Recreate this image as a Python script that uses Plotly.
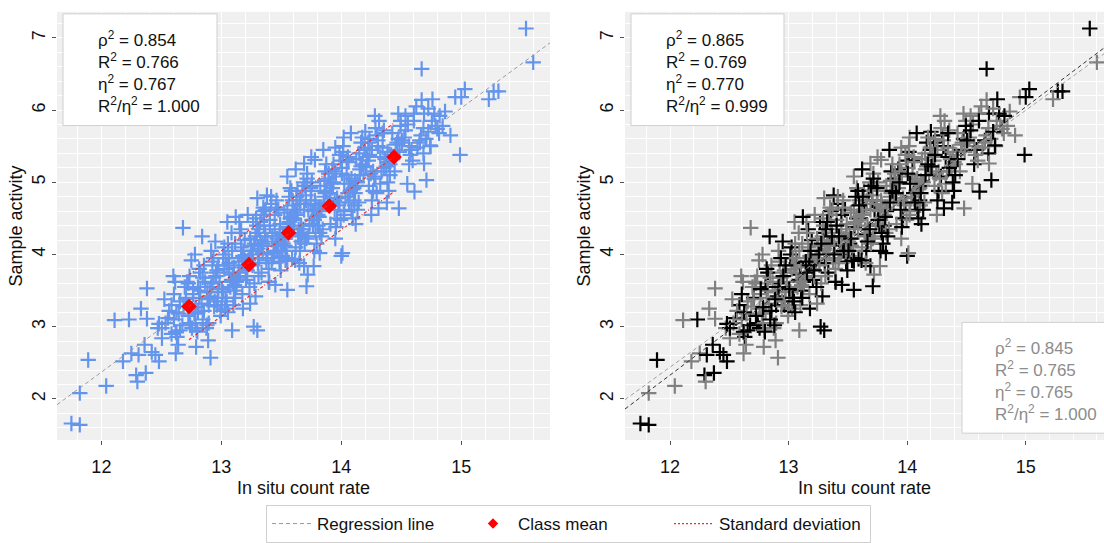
import plotly.graph_objects as go

# ---------------- data ----------------
black_pts = [
    (12.555,3.12),(12.505,2.98),(12.585,3.30),
    (12.625,3.20),(12.675,3.02),(12.605,3.45),(12.655,2.95),
    (12.785,3.27),(12.735,3.05),(12.765,3.52),(12.705,3.40),(12.725,3.15),(12.755,2.98),
    (12.855,3.22),(12.805,3.55),(12.885,3.38),(12.825,3.75),(12.845,3.10),(12.895,3.30),(12.815,3.80),
    (12.925,3.60),(12.975,3.85),(12.905,3.42),(12.955,3.70),(12.995,3.22),(12.935,3.95),(12.965,3.30),(12.915,3.55),
    (13.085,3.65),(13.035,3.40),(13.065,3.88),(13.005,3.52),(13.025,4.10),(13.055,3.20),(13.095,3.72),(13.045,3.35),(13.015,4.00),
    (13.155,3.75),(13.105,3.50),(13.185,4.05),(13.125,3.62),(13.145,3.90),(13.195,4.20),(13.115,3.40),(13.165,4.35),(13.175,3.85),
    (13.225,3.88),(13.275,4.15),(13.205,3.65),(13.255,4.00),(13.295,4.30),(13.235,3.55),(13.265,4.45),(13.215,3.78),(13.285,3.42),
    (13.385,4.00),(13.335,3.75),(13.365,4.25),(13.305,3.88),(13.325,4.45),(13.355,4.60),(13.395,3.62),(13.345,4.15),(13.315,4.35),
    (13.455,4.12),(13.405,4.40),(13.485,3.90),(13.425,4.25),(13.445,4.55),(13.495,3.78),(13.415,4.70),(13.465,4.05),(13.475,4.62),
    (13.525,4.22),(13.575,4.50),(13.505,4.05),(13.555,4.38),(13.595,4.68),(13.535,3.92),(13.565,4.80),(13.515,4.15),(13.585,4.88),(13.545,3.95),
    (13.685,4.35),(13.635,4.62),(13.665,4.18),(13.605,4.50),(13.625,4.80),(13.655,4.05),(13.695,4.95),(13.645,4.28),(13.615,3.92),(13.675,4.88),
    (13.755,4.48),(13.705,4.75),(13.785,4.30),(13.725,4.62),(13.745,4.92),(13.795,4.15),(13.715,5.05),(13.765,4.40),(13.775,4.05),
    (13.825,4.60),(13.875,4.88),(13.805,4.40),(13.855,4.72),(13.895,5.05),(13.835,4.25),(13.865,5.15),(13.815,4.52),
    (13.985,4.72),(13.935,5.00),(13.965,4.50),(13.905,4.85),(13.925,5.18),(13.955,4.38),(13.995,5.30),(13.945,4.62),
    (14.055,4.85),(14.005,5.12),(14.085,4.62),(14.025,4.98),(14.045,5.30),(14.095,4.50),(14.015,5.42),(14.065,4.72),
    (14.125,4.95),(14.175,5.25),(14.105,4.75),(14.155,5.10),(14.195,5.45),(14.135,4.62),(14.165,5.55),(14.115,4.85),
    (14.285,5.08),(14.235,5.38),(14.265,4.88),(14.205,5.22),(14.225,5.55),(14.255,4.75),(14.295,5.65),
    (14.355,5.20),(14.305,5.50),(14.385,5.00),(14.325,5.35),(14.345,5.68),(14.395,4.88),
    (14.425,5.32),(14.475,5.60),(14.405,5.10),(14.455,5.45),(14.495,5.78),
    (14.585,5.45),(14.535,5.72),(14.565,5.25),(14.505,5.58),
    (14.655,5.58),(14.605,5.85),(14.685,5.40),
    (14.725,5.70),(14.775,5.95),
    (14.82,5.92),
    # wider spread
    (12.95,4.18),(13.12,4.52),(13.38,4.82),(13.62,5.18),(13.85,5.45),(14.08,5.68),
    (13.18,3.25),(13.45,3.58),(13.82,4.02),(14.12,4.42),(14.38,4.72),(12.88,3.02),
    # outliers
    (15.54,7.13),(14.67,6.57),(15.03,6.29),(15.00,6.18),(15.27,6.26),(15.31,6.26),(14.99,5.38),
    (14.76,6.15),(14.69,5.95),(14.74,5.51),(14.71,5.03),(14.61,4.87),(14.20,5.70),(14.31,4.64),
    (14.00,3.98),(13.71,3.56),(13.55,3.51),(12.84,4.25),(12.23,3.10),(12.31,2.61),(12.36,2.75),
    (12.42,2.65),(12.45,2.61),(12.48,2.52),(12.29,2.33),(12.37,2.36),(11.89,2.54),(11.75,1.66),
    (11.82,1.64),(13.27,3.00),(13.30,2.95),(12.62,2.93),(12.63,2.86),(12.80,2.93),(12.74,3.02),
    (12.48,3.04),(13.69,3.84),(13.55,3.91),(13.59,3.94),
]

gray_pts = [
    (12.585,2.90),(12.535,3.05),(12.565,3.22),(12.505,2.84),(12.525,3.38),
    (12.655,3.35),(12.605,3.10),(12.685,3.28),(12.625,2.92),(12.645,3.18),(12.695,3.55),(12.615,3.62),
    (12.725,3.60),(12.775,3.18),(12.705,3.38),(12.755,3.25),(12.795,2.95),(12.735,3.70),(12.765,3.45),(12.715,3.62),(12.785,3.05),
    (12.885,3.48),(12.835,3.32),(12.865,3.62),(12.805,3.20),(12.825,3.50),(12.855,3.85),(12.895,3.05),(12.845,3.68),(12.815,3.40),(12.875,2.98),
    (12.955,3.75),(12.905,3.48),(12.985,3.62),(12.925,3.90),(12.945,3.35),(12.995,3.15),(12.915,4.05),(12.965,3.78),(12.975,3.52),(12.935,3.68),(12.940,3.28),(12.970,3.40),
    (13.025,3.80),(13.075,3.55),(13.005,3.30),(13.055,4.15),(13.095,3.62),(13.035,3.95),(13.065,3.75),(13.015,3.48),(13.085,4.30),(13.045,3.85),(13.030,3.25),(13.060,3.95),(13.090,4.05),
    (13.185,3.95),(13.135,3.68),(13.165,4.10),(13.105,3.82),(13.125,3.55),(13.155,4.30),(13.195,3.92),(13.145,3.70),(13.115,4.15),(13.175,3.45),(13.110,3.58),(13.150,4.45),(13.180,3.98),
    (13.255,4.05),(13.205,3.80),(13.285,4.25),(13.225,3.92),(13.245,4.12),(13.295,4.40),(13.215,3.70),(13.265,4.05),(13.275,3.60),(13.235,3.95),(13.220,4.55),(13.260,3.85),(13.290,4.50),(13.240,4.22),
    (13.325,4.20),(13.375,3.92),(13.305,4.08),(13.355,4.40),(13.395,3.80),(13.335,4.55),(13.365,4.30),(13.315,3.95),(13.385,4.18),(13.345,4.02),(13.310,3.70),(13.350,4.65),(13.370,4.62),(13.330,4.12),
    (13.485,4.30),(13.435,4.05),(13.465,4.22),(13.405,4.48),(13.425,3.95),(13.455,4.65),(13.495,4.18),(13.445,4.35),(13.415,4.80),(13.475,4.15),(13.420,3.88),(13.460,4.75),(13.490,4.42),(13.440,4.02),
    (13.555,4.42),(13.505,4.18),(13.585,4.35),(13.525,4.58),(13.545,4.05),(13.595,4.75),(13.515,4.28),(13.565,4.45),(13.575,4.92),(13.535,4.22),(13.510,3.98),(13.550,4.62),(13.580,4.52),(13.530,4.12),
    (13.625,4.55),(13.675,4.30),(13.605,4.48),(13.655,4.70),(13.695,4.15),(13.635,4.88),(13.665,4.40),(13.615,4.58),(13.685,5.00),(13.645,4.35),(13.620,4.10),(13.660,4.75),(13.690,4.62),(13.640,4.25),
    (13.785,4.68),(13.735,4.42),(13.765,4.60),(13.705,4.82),(13.725,4.25),(13.755,5.00),(13.795,4.52),(13.745,4.70),(13.715,5.12),(13.775,4.48),(13.710,4.22),(13.750,4.88),(13.780,4.75),
    (13.855,4.80),(13.805,4.55),(13.885,4.72),(13.825,4.95),(13.845,4.35),(13.895,5.12),(13.815,4.65),(13.865,4.85),(13.875,5.25),(13.835,4.62),(13.820,4.30),(13.860,5.02),
    (13.925,4.92),(13.975,4.68),(13.905,4.85),(13.955,5.08),(13.995,4.48),(13.935,5.25),(13.965,4.78),(13.915,4.98),(13.985,5.38),(13.945,4.75),(13.910,4.42),(13.950,5.15),
    (14.085,5.05),(14.035,4.80),(14.065,4.98),(14.005,5.20),(14.025,4.60),(14.055,5.35),(14.095,4.90),(14.045,5.10),(14.015,5.50),(14.075,4.88),(14.020,4.55),(14.060,5.28),
    (14.155,5.18),(14.105,4.92),(14.185,5.10),(14.125,5.32),(14.145,4.72),(14.195,5.48),(14.115,5.02),(14.165,5.22),(14.175,5.62),(14.135,5.00),(14.110,4.68),(14.150,5.40),
    (14.225,5.30),(14.275,5.05),(14.205,5.22),(14.255,5.45),(14.295,4.85),(14.235,5.60),(14.265,5.15),(14.215,5.35),(14.285,5.75),(14.245,5.12),(14.230,4.95),
    (14.385,5.42),(14.335,5.15),(14.365,5.32),(14.305,5.58),(14.325,4.98),(14.355,5.72),(14.395,5.28),(14.345,5.48),(14.315,5.85),(14.375,5.22),
    (14.455,5.52),(14.405,5.25),(14.485,5.42),(14.425,5.68),(14.445,5.15),(14.495,5.85),(14.415,5.38),(14.465,5.55),(14.475,5.95),
    (14.525,5.62),(14.575,5.38),(14.505,5.55),(14.555,5.80),(14.595,5.30),(14.535,5.92),(14.565,5.50),
    (14.685,5.75),(14.635,5.48),(14.665,5.65),(14.605,5.95),(14.625,6.05),(14.655,5.55),
    (14.755,5.85),(14.705,5.60),(14.785,5.78),(14.725,6.02),(14.745,5.50),
    (14.815,5.68),(14.845,5.78),(14.865,5.98),
    # wider spread
    (13.05,4.45),(13.30,4.78),(13.55,5.08),(13.75,5.35),(14.02,5.62),(14.28,5.92),(13.10,3.30),
    (13.40,3.62),(13.65,3.88),(13.95,4.22),(14.25,4.55),(14.55,4.98),(12.75,3.92),(12.60,3.70),
    # outliers
    (15.60,6.66),(15.23,6.15),(14.95,6.18),(14.91,5.65),(14.80,5.74),(14.67,6.14),(14.48,4.64),
    (14.69,5.26),(13.69,5.26),(13.78,5.31),(13.95,5.48),(12.68,4.37),(12.78,4.00),(12.38,3.53),
    (12.33,3.25),(12.38,3.11),(12.11,3.09),(12.47,2.98),(12.62,2.63),(12.64,2.75),(12.18,2.52),
    (12.25,2.63),(12.30,2.24),(12.04,2.18),(11.82,2.08),(13.09,2.95),(12.79,2.72),(12.89,2.81),
    (12.91,2.57),(13.24,3.32),(14.01,4.02),(13.72,3.72),(13.77,3.84),
]

black_x = [p[0] for p in black_pts]
black_y = [p[1] for p in black_pts]
gray_x = [p[0] for p in gray_pts]
gray_y = [p[1] for p in gray_pts]

class_x = [12.73, 13.23, 13.56, 13.90, 14.44]
class_y = [3.28, 3.86, 4.30, 4.67, 5.35]

sd_x = [12.73, 14.44]
sd_center = [3.28, 5.35]
sd_upper = [3.72, 5.82]
sd_lower = [2.82, 4.87]

reg_all_x = [11.63, 15.74]
reg_all_y = [1.92, 6.93]
reg_black_x = [11.62, 15.66]
reg_black_y = [1.86, 6.86]
reg_gray_x = [11.62, 15.66]
reg_gray_y = [1.99, 6.78]

stat_names = ["ρ<sup>2</sup>", "R<sup>2</sup>", "η<sup>2</sup>", "R<sup>2</sup>/η<sup>2</sup>"]
stats_all = ["0.854", "0.766", "0.767", "1.000"]
stats_black = ["0.865", "0.769", "0.770", "0.999"]
stats_gray = ["0.845", "0.765", "0.765", "1.000"]

x_ticks = [12, 13, 14, 15]
y_ticks = [2, 3, 4, 5, 6, 7]

# ---------------- figure ----------------
W, H = 1104, 543
FONT = "Liberation Sans, Arial, sans-serif"
BLUE = "#6495ED"
BLACK = "#000000"
GRAY = "#808080"
TXT = "#111111"
RED = "#FF0000"


def px(x):
    return x / W


def py(y):
    return 1 - y / H


def cross(c):
    return dict(symbol="cross-thin", size=11, color=c, line=dict(width=2.2, color=c))


fig = go.Figure()

# left panel
fig.add_trace(go.Scatter(x=black_x + gray_x, y=black_y + gray_y, mode="markers",
                         marker=cross(BLUE), showlegend=False, xaxis="x", yaxis="y"))
fig.add_trace(go.Scatter(x=reg_all_x, y=reg_all_y, mode="lines", name="Regression line",
                         line=dict(color="#9A9A9A", width=1, dash="4px,3px"), xaxis="x", yaxis="y"))
fig.add_trace(go.Scatter(x=class_x, y=class_y, mode="markers", name="Class mean", showlegend=False,
                         marker=dict(symbol="diamond", size=12, color=RED), xaxis="x", yaxis="y"))
# legend-only entry with a smaller diamond, as in the reference legend
fig.add_trace(go.Scatter(x=[None], y=[None], mode="markers", name="Class mean",
                         marker=dict(symbol="diamond", size=8, color=RED), xaxis="x", yaxis="y"))
for sd in [sd_upper, sd_center, sd_lower]:
    fig.add_trace(go.Scatter(x=sd_x, y=sd, mode="lines", showlegend=False,
                             line=dict(color="#F02828", width=1.1, dash="3px,2px,1px,2px"),
                             xaxis="x", yaxis="y"))
fig.add_trace(go.Scatter(x=[None], y=[None], mode="lines", name="Standard deviation",
                         line=dict(color="#FF2020", width=1.3, dash="2px,2px"), xaxis="x", yaxis="y"))

# right panel: half of the black points under the gray ones, half above
fig.add_trace(go.Scatter(x=black_x[0::2], y=black_y[0::2], mode="markers", marker=cross(BLACK),
                         showlegend=False, xaxis="x2", yaxis="y2"))
fig.add_trace(go.Scatter(x=gray_x, y=gray_y, mode="markers", marker=cross(GRAY),
                         showlegend=False, xaxis="x2", yaxis="y2"))
fig.add_trace(go.Scatter(x=black_x[1::2], y=black_y[1::2], mode="markers", marker=cross(BLACK),
                         showlegend=False, xaxis="x2", yaxis="y2"))
fig.add_trace(go.Scatter(x=reg_gray_x, y=reg_gray_y, mode="lines", showlegend=False,
                         line=dict(color="#A0A0A0", width=1, dash="4px,3px"), xaxis="x2", yaxis="y2"))
fig.add_trace(go.Scatter(x=reg_black_x, y=reg_black_y, mode="lines", showlegend=False,
                         line=dict(color="#333333", width=1, dash="4px,3px"), xaxis="x2", yaxis="y2"))

ydom = [py(445), py(12)]
common_x = dict(tickvals=x_ticks, ticks="outside", ticklen=4, tickcolor="#555555",
                tickfont=dict(size=18, color=TXT, family=FONT), showgrid=True,
                gridcolor="white", gridwidth=1.2, zeroline=False, showline=False,
                minor=dict(dtick=0.2, showgrid=True, gridcolor="white", gridwidth=0.7),
                ticklabelstandoff=6,
                title=dict(text="In situ count rate", font=dict(size=18, color=TXT, family=FONT), standoff=5))
common_y = dict(tickvals=y_ticks, ticks="outside", ticklen=4, tickcolor="#555555", tickangle=-90,
                tickfont=dict(size=18, color=TXT, family=FONT), showgrid=True,
                gridcolor="white", gridwidth=1.2, zeroline=False, showline=False,
                minor=dict(dtick=0.2, showgrid=True, gridcolor="white", gridwidth=0.7),
                range=[1.43, 7.36], domain=ydom,
                title=dict(text="Sample activity", font=dict(size=18, color=TXT, family=FONT), standoff=1))

fig.update_layout(
    width=W, height=H, margin=dict(l=0, r=0, t=0, b=0),
    paper_bgcolor="white", plot_bgcolor="#F0F0F0",
    font=dict(family=FONT, color=TXT),
    xaxis=dict(domain=[px(57), px(550)], range=[11.63, 15.74], anchor="y", **common_x),
    yaxis=dict(anchor="x", **common_y),
    xaxis2=dict(domain=[px(625), 1.0], range=[11.62, 15.66], anchor="y2", **common_x),
    yaxis2=dict(anchor="x2", **common_y),
    legend=dict(orientation="h", x=px(266), y=py(511), xanchor="left", yanchor="top",
                bgcolor="white", bordercolor="#D0D0D0", borderwidth=1,
                font=dict(size=17, color=TXT, family=FONT),
                entrywidth=146, entrywidthmode="pixels", itemwidth=40, traceorder="normal"),
)

boxes = [(63, 14, 217, 127), (631, 14, 784, 127), (962, 326, 1112, 438)]
for (x0, y0, x1, y1) in boxes:
    fig.add_shape(type="rect", xref="paper", yref="paper", x0=px(x0), x1=px(x1), y0=py(y0), y1=py(y1),
                  line=dict(color="#CFCFCF", width=1), fillcolor="white", layer="above")


def stats_text(vals):
    return "<br>".join(f"{n} = {v}" for n, v in zip(stat_names, vals))


for (xpos, ymid, vals, col) in [(96, 73, stats_all, TXT), (664, 73, stats_black, TXT),
                                (993, 384, stats_gray, "#8C8C8C")]:
    fig.add_annotation(xref="paper", yref="paper", x=px(xpos), y=py(ymid), xanchor="left", yanchor="middle",
                       text=stats_text(vals), showarrow=False, align="left",
                       font=dict(size=17, color=col, family=FONT))

fig.write_html("out.html", config={"displayModeBar": False},
               post_script="document.body.style.margin='0px';document.body.style.overflow='hidden';")
